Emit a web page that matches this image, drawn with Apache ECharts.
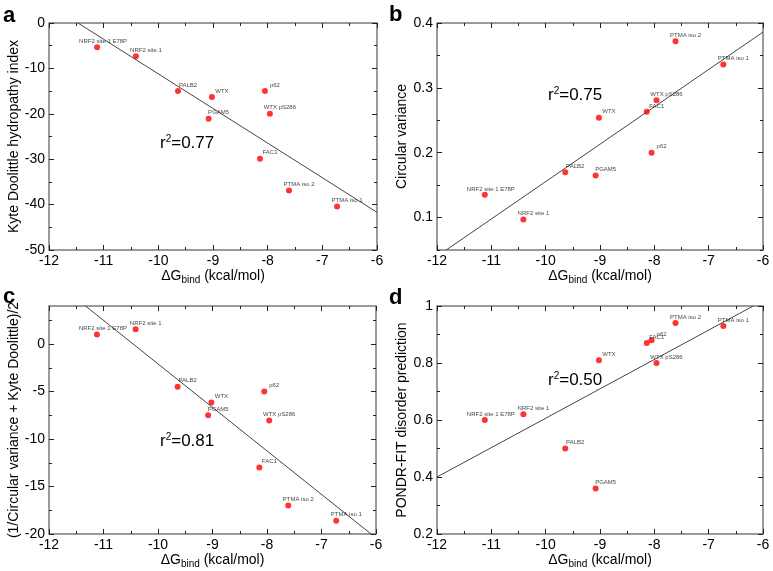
<!DOCTYPE html>
<html>
<head>
<meta charset="utf-8">
<script src="https://cdn.jsdelivr.net/npm/echarts@6/dist/echarts.min.js"></script>
<style>
  html, body { margin: 0; padding: 0; background: #fff; }
  #main { width: 773px; height: 571px; }
</style>
</head>
<body>
<div id="main"></div>
<script>
// peptide names and binding free energies (shared x values)
var names = ['NRF2 site 1 E78P', 'NRF2 site 1', 'PALB2', 'WTX', 'PGAM5', 'p62', 'WTX pS286', 'FAC1', 'PTMA iso 2', 'PTMA iso 1'];
var dG = [-11.12, -10.41, -9.64, -9.02, -9.08, -8.05, -7.96, -8.14, -7.61, -6.73];

// y values of the four panels
var kyteDoolittle = [-5.35, -7.3, -15.0, -16.3, -21.1, -15.0, -20.0, -29.9, -36.9, -40.4];
var circVariance = [0.135, 0.097, 0.170, 0.254, 0.165, 0.200, 0.281, 0.263, 0.372, 0.336];
var combined = [1.0, 1.55, -4.5, -6.15, -7.5, -5.0, -8.05, -13.0, -17.0, -18.6];
var pondrFit = [0.60, 0.62, 0.50, 0.81, 0.36, 0.88, 0.80, 0.87, 0.94, 0.93];

// regression line end points
var fitA = [[-11.47, 0], [-6, -41.7]];
var fitB = [[-11.83, 0.05], [-6, 0.386]];
var fitC = [[-11.33, 4], [-6.09, -20]];
var fitD = [[-12, 0.4], [-6.18, 1]];
var r2Values = ['0.77', '0.75', '0.81', '0.50'];

// tick labels
var xTicks = [-12, -11, -10, -9, -8, -7, -6];
var xMinor = [-11.5, -10.5, -9.5, -8.5, -7.5, -6.5];
var yTicksA = [-50, -40, -30, -20, -10, 0];
var yMinorA = [-45, -35, -25, -15, -5];
var yTicksB = [0.1, 0.2, 0.3, 0.4];
var yMinorB = [0.05, 0.15, 0.25, 0.35];
var yTicksC = [-20, -15, -10, -5, 0];
var yMinorC = [-17.5, -12.5, -7.5, -2.5, 2.5];
var yTicksD = [0.2, 0.4, 0.6, 0.8, 1];
var yMinorD = [0.3, 0.5, 0.7, 0.9];

var FONT = 'Liberation Sans, Arial, Helvetica, sans-serif';
var labelDx = [6, 10, 10, 10, 10, 10, 10, 10, 10, 10];

var panels = [
    {letter: 'a', grid: {left: 49, top: 23, width: 328, height: 227}, y: kyteDoolittle, ymin: -50, ymax: 0,
     ticks: yTicksA, minor: yMinorA, yName: 'Kyte Doolittle hydropathy index', gap: 23, fit: fitA,
     letterPos: [3, 5], r2Pos: [160, 134]},
    {letter: 'b', grid: {left: 437, top: 23, width: 326, height: 227}, y: circVariance, ymin: 0.05, ymax: 0.4,
     ticks: yTicksB, minor: yMinorB, yName: 'Circular variance', gap: 26, fit: fitB,
     letterPos: [389, 4], r2Pos: [548, 86]},
    {letter: 'c', grid: {left: 49, top: 306, width: 327, height: 228}, y: combined, ymin: -20, ymax: 4,
     ticks: yTicksC, minor: yMinorC, yName: '(1/Circular variance + Kyte Doolittle)/2', gap: 25, fit: fitC,
     letterPos: [3, 286], r2Pos: [160, 432]},
    {letter: 'd', grid: {left: 437, top: 306, width: 326, height: 228}, y: pondrFit, ymin: 0.2, ymax: 1,
     ticks: yTicksD, minor: yMinorD, yName: 'PONDR-FIT disorder prediction', gap: 27, fit: fitD,
     letterPos: [389, 287], r2Pos: [548, 371]}
];

function makeAxis(gridIndex, position, min, max, ticks, len, labels) {
    return {
        type: 'value', gridIndex: gridIndex, position: position, min: min, max: max,
        axisLine: {show: false, onZero: false},
        splitLine: {show: false},
        axisTick: {show: true, inside: true, length: len, customValues: ticks,
                   lineStyle: {color: '#222', width: 1}},
        axisLabel: {show: labels, customValues: ticks, margin: 4, fontSize: 14, color: '#000', fontFamily: FONT}
    };
}

var option = {
    animation: false,
    backgroundColor: '#fff',
    textStyle: {fontFamily: FONT},
    title: [], grid: [], xAxis: [], yAxis: [], series: []
};

panels.forEach(function (p, i) {
    option.grid.push(Object.assign({show: true, borderColor: '#7a7a7a', borderWidth: 1.5}, p.grid));

    var xBase = option.xAxis.length, yBase = option.yAxis.length;
    var xMain = makeAxis(i, 'bottom', -12, -6, xTicks, 5, true);
    xMain.name = '{d|ΔG}{s|bind}{d| (kcal/mol)}';
    xMain.nameLocation = 'middle';
    xMain.nameGap = 9;
    xMain.nameTextStyle = {rich: {
        d: {fontSize: 14, color: '#000', fontFamily: FONT},
        s: {fontSize: 10, color: '#000', fontFamily: FONT, padding: [9, 0, 0, 0]}
    }};
    option.xAxis.push(xMain,
        makeAxis(i, 'bottom', -12, -6, xMinor, 3, false),
        makeAxis(i, 'top', -12, -6, xTicks, 5, false),
        makeAxis(i, 'top', -12, -6, xMinor, 3, false));

    var yMain = makeAxis(i, 'left', p.ymin, p.ymax, p.ticks, 5, true);
    yMain.name = p.yName;
    yMain.nameLocation = 'middle';
    yMain.nameGap = p.gap;
    yMain.nameTextStyle = {fontSize: 14, color: '#000', fontFamily: FONT};
    option.yAxis.push(yMain,
        makeAxis(i, 'left', p.ymin, p.ymax, p.minor, 3, false),
        makeAxis(i, 'right', p.ymin, p.ymax, p.ticks, 5, false),
        makeAxis(i, 'right', p.ymin, p.ymax, p.minor, 3, false));

    option.series.push({
        type: 'line', xAxisIndex: xBase, yAxisIndex: yBase,
        data: p.fit, symbol: 'none', silent: true, z: 1,
        lineStyle: {color: '#444', width: 1}
    });
    option.series.push({
        type: 'scatter', xAxisIndex: xBase, yAxisIndex: yBase, z: 3,
        symbolSize: 6,
        itemStyle: {color: '#ff0000'},
        label: {show: true, position: 'inside', formatter: '{b}', fontSize: 6, color: '#111', fontFamily: FONT},
        data: dG.map(function (x, k) {
            return {name: names[k], value: [x, p.y[k]], label: {offset: [labelDx[k], -6]}};
        })
    });

    option.title.push({
        text: p.letter, left: p.letterPos[0], top: p.letterPos[1], padding: 0,
        textStyle: {fontSize: 22, fontWeight: 'bold', color: '#000', fontFamily: FONT}
    });
    option.title.push({
        text: '{r|r}{s|2}{r|=' + r2Values[i] + '}', left: p.r2Pos[0], top: p.r2Pos[1], padding: 0,
        textStyle: {fontWeight: 'normal', rich: {
            r: {fontSize: 17, fontWeight: 'normal', color: '#000', fontFamily: FONT},
            s: {fontSize: 10, fontWeight: 'normal', color: '#000', fontFamily: FONT, padding: [0, 0, 9, 0]}
        }}
    });
});

echarts.init(document.getElementById('main')).setOption(option);
</script>
</body>
</html>
